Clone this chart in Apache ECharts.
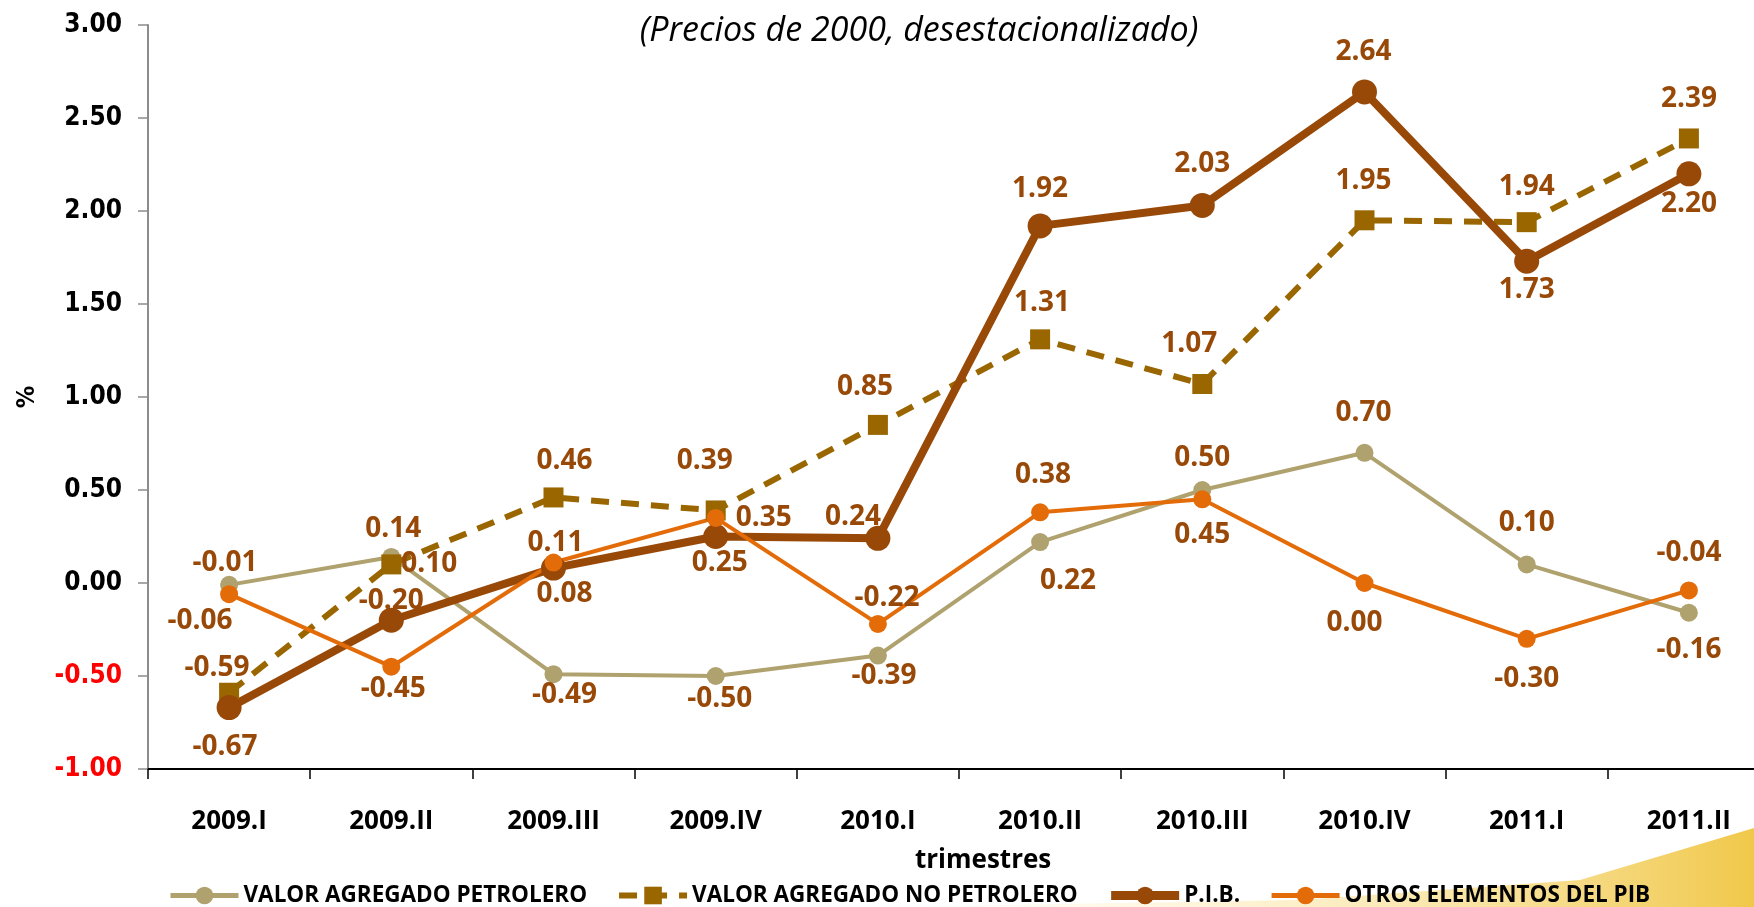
<!DOCTYPE html>
<html>
<head>
    <meta charset="utf-8">
    <script type="text/javascript" src="https://cdn.jsdelivr.net/npm/echarts@6/dist/echarts.min.js"></script>
    <style type="text/css">
        *{
            margin: 0;
            padding: 0;
        }
        #main{
            width: 1754px;
            height: 907px;
            background: #fff;
        }
    </style>
</head>
<body>
<div id="main"></div>
<script type="text/javascript">

    // datos
    var trimestres = ['2009.I', '2009.II', '2009.III', '2009.IV', '2010.I', '2010.II', '2010.III', '2010.IV', '2011.I', '2011.II'];
    var petrolero = [-0.01, 0.14, -0.49, -0.50, -0.39, 0.22, 0.50, 0.70, 0.10, -0.16];
    var noPetrolero = [-0.59, 0.10, 0.46, 0.39, 0.85, 1.31, 1.07, 1.95, 1.94, 2.39];
    var pib = [-0.67, -0.20, 0.08, 0.25, 0.24, 1.92, 2.03, 2.64, 1.73, 2.20];
    var otros = [-0.06, -0.45, 0.11, 0.35, -0.22, 0.38, 0.45, 0.00, -0.30, -0.04];

    // desplazamiento de las etiquetas respecto al punto (px)
    var offPetrolero = [[-4,-22],[2,-28],[11,21],[4,23],[6,20],[28,39],[0,-32],[-1,-40],[0,-41],[0,37]];
    var offNoPetrolero = [[-12,-25],[38,0],[11,-36],[-11,-49],[-13,-38],[2,-36],[-13,-40],[-1,-39],[0,-35],[0,-39]];
    var offPib = [[-4,39],[0,-19],[11,26],[4,27],[-25,-21],[0,-37],[0,-41],[-1,-40],[0,29],[0,30]];
    var offOtros = [[-29,27],[2,22],[2,-20],[48,0],[9,-26],[3,-37],[0,36],[-10,40],[0,40],[0,-37]];

    var labelColor = '#984807';
    var labelFont = '"Open Sans", sans-serif';
    var axisFont = '"DejaVu Sans Condensed", "DejaVu Sans", sans-serif';

    function buildData(values, offsets) {
        return values.map(function (v, i) {
            return {
                value: v,
                label: {offset: offsets[i]}
            };
        });
    }

    var commonLabel = {
        show: true,
        position: 'inside',
        color: labelColor,
        fontFamily: labelFont,
        fontWeight: 'bold',
        fontSize: 28,
        formatter: function (p) { return p.value.toFixed(2); }
    };

    var myChart = echarts.init(document.getElementById('main'));
    var option = {
        animation: false,
        title: {
            text: '(Precios de 2000, desestacionalizado)',
            left: 914,
            top: 9,
            textAlign: 'center',
            textStyle: {
                fontFamily: labelFont,
                fontStyle: 'italic',
                fontWeight: 'normal',
                fontSize: 34,
                color: '#000'
            }
        },
        graphic: [{
            type: 'polygon',
            z: -10,
            silent: true,
            shape: {
                points: [[880, 907], [1300, 900], [1580, 880], [1754, 828], [1754, 907]]
            },
            style: {
                fill: {
                    type: 'linear', x: 0, y: 0, x2: 1, y2: 0,
                    colorStops: [
                        {offset: 0, color: 'rgba(255,240,200,0)'},
                        {offset: 0.5, color: 'rgba(250,228,160,0.6)'},
                        {offset: 1, color: '#f0c84a'}
                    ]
                }
            }
        }, {
            type: 'text',
            left: 915,
            top: 848,
            style: {
                text: 'trimestres',
                textAlign: 'center',
                fontFamily: labelFont,
                fontWeight: 'bold',
                fontSize: 26,
                fill: '#000'
            }
        }],
        legend: {
            top: 879,
            left: 163,
            itemWidth: 68,
            itemHeight: 22,
            itemGap: 29,
            textStyle: {
                fontFamily: labelFont,
                fontWeight: 'bold',
                fontSize: 22.5,
                color: '#000'
            },
            data: [
                {name: 'VALOR AGREGADO PETROLERO', lineStyle: {width: 5}},
                {name: 'VALOR AGREGADO NO PETROLERO', lineStyle: {width: 6}},
                {name: 'P.I.B.', lineStyle: {width: 9}},
                {name: 'OTROS ELEMENTOS DEL PIB', lineStyle: {width: 5}}
            ]
        },
        grid: {
            left: 148,
            width: 1622,
            top: 25,
            bottom: 138,
            outerBoundsMode: 'none'
        },
        xAxis: {
            type: 'category',
            data: trimestres,
            axisLine: {onZero: false, lineStyle: {color: '#000', width: 2}},
            axisTick: {show: true, length: 10, lineStyle: {color: '#000', width: 1.5}},
            axisLabel: {
                margin: 40,
                fontFamily: labelFont,
                fontWeight: 'bold',
                fontSize: 26,
                color: '#000'
            }
        },
        yAxis: {
            type: 'value',
            min: -1,
            max: 3,
            interval: 0.5,
            name: '%',
            nameLocation: 'middle',
            nameGap: 108,
            nameTextStyle: {
                fontFamily: axisFont,
                fontWeight: 'bold',
                fontSize: 25,
                color: '#000'
            },
            axisLine: {show: true, lineStyle: {color: '#8c8c8c', width: 2}},
            axisTick: {show: true, length: 10, lineStyle: {color: '#8c8c8c', width: 1.5}},
            splitLine: {show: false},
            axisLabel: {
                margin: 26,
                fontFamily: axisFont,
                fontWeight: 'bold',
                fontSize: 26,
                formatter: function (v) { return v.toFixed(2); },
                color: function (v) { return v < 0 ? '#ff0000' : '#000'; }
            }
        },
        series: [
            {
                name: 'VALOR AGREGADO PETROLERO',
                type: 'line',
                symbol: 'circle',
                symbolSize: 18,
                lineStyle: {color: '#afa26e', width: 4},
                itemStyle: {color: '#afa26e'},
                label: commonLabel,
                data: buildData(petrolero, offPetrolero)
            },
            {
                name: 'VALOR AGREGADO NO PETROLERO',
                type: 'line',
                symbol: 'rect',
                symbolSize: 20,
                lineStyle: {color: '#996600', width: 6, type: [18, 12]},
                itemStyle: {color: '#996600'},
                label: commonLabel,
                data: buildData(noPetrolero, offNoPetrolero)
            },
            {
                name: 'P.I.B.',
                type: 'line',
                symbol: 'circle',
                symbolSize: 25,
                lineStyle: {color: '#984807', width: 8},
                itemStyle: {color: '#984807'},
                label: commonLabel,
                data: buildData(pib, offPib)
            },
            {
                name: 'OTROS ELEMENTOS DEL PIB',
                type: 'line',
                symbol: 'circle',
                symbolSize: 18,
                lineStyle: {color: '#e36c09', width: 4},
                itemStyle: {color: '#e36c09'},
                label: commonLabel,
                data: buildData(otros, offOtros)
            }
        ]
    };

    myChart.setOption(option);

</script>
</body>
</html>
